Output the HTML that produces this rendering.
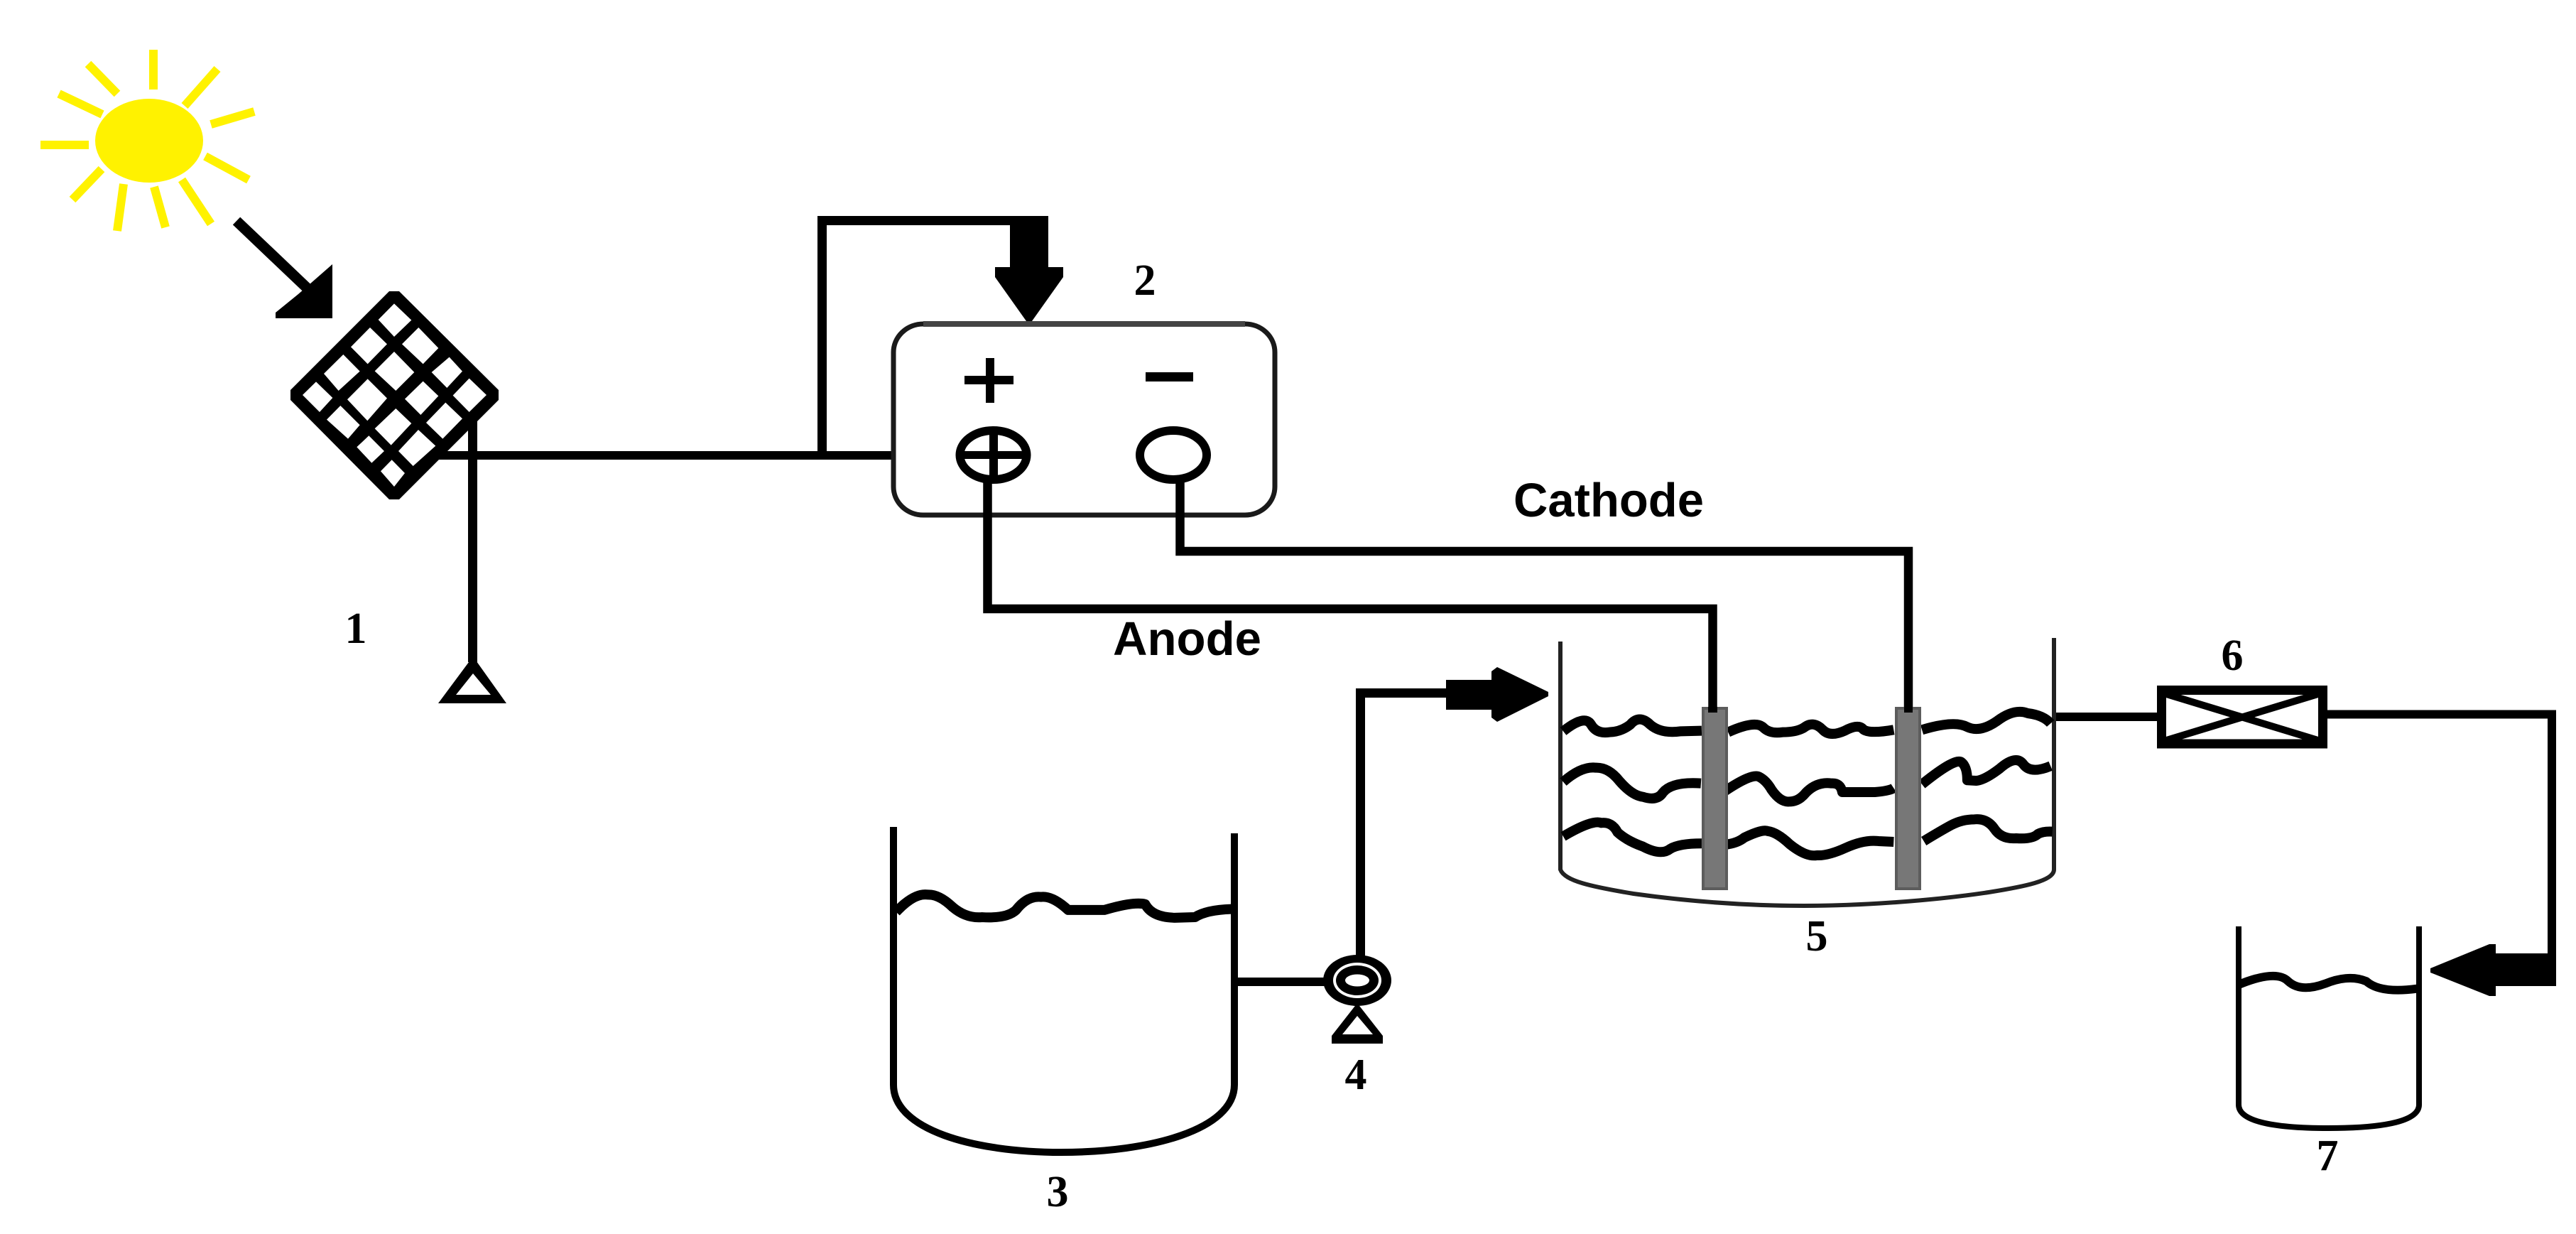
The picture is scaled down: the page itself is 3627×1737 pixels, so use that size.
<!DOCTYPE html>
<html>
<head>
<meta charset="utf-8">
<style>
html,body{margin:0;padding:0;background:#fff;}
svg{display:block;}
.n{font-family:"Liberation Serif",serif;font-weight:bold;font-size:62px;fill:#000;text-anchor:middle;}
.l{font-family:"Liberation Sans",sans-serif;font-weight:bold;font-size:67px;fill:#000;}
</style>
</head>
<body>
<svg xmlns="http://www.w3.org/2000/svg" width="3627" height="1737" viewBox="0 0 3627 1737">
<rect width="3627" height="1737" fill="#fff"/>

<!-- Sun -->
<ellipse cx="210" cy="198" rx="76" ry="59" fill="#fff200"/>
<g stroke="#fff200" stroke-width="12" fill="none">
<line x1="216" y1="70" x2="216" y2="126"/>
<line x1="260" y1="149" x2="306" y2="97"/>
<line x1="297" y1="175" x2="358" y2="157"/>
<line x1="289" y1="220" x2="350" y2="253"/>
<line x1="256" y1="253" x2="297" y2="315"/>
<line x1="217" y1="263" x2="233" y2="320"/>
<line x1="174" y1="259" x2="165" y2="325"/>
<line x1="143" y1="238" x2="102" y2="281"/>
<line x1="57" y1="204" x2="125" y2="204"/>
<line x1="144" y1="161" x2="83" y2="132"/>
<line x1="165" y1="132" x2="124" y2="90"/>
</g>

<!-- Sun arrow -->
<line x1="333" y1="311" x2="435" y2="408" stroke="#000" stroke-width="15"/>
<polygon points="468,372 468,448 388,448 388,440 420,414" fill="#000"/>

<!-- Solar panel -->
<polygon points="548,410 562,410 702,549 702,563 562,703 548,703 409,563 409,549" fill="#000"/>
<g transform="translate(350,350) scale(0.3333)" fill="#fff">
<polygon points="615,232 688,302 615,372 548,300"/>
<polygon points="513,333 585,403 503,487 432,415"/>
<polygon points="718,333 802,420 737,487 648,403"/>
<polygon points="400,447 470,518 380,600 318,528"/>
<polygon points="615,435 700,522 622,600 533,517"/>
<polygon points="848,458 903,518 838,588 773,522"/>
<polygon points="285,562 355,630 300,690 228,618"/>
<polygon points="503,550 585,632 502,727 417,637"/>
<polygon points="737,560 802,622 727,702 660,635"/>
<polygon points="932,548 1005,618 932,690 863,620"/>
<polygon points="388,663 470,745 420,803 330,722"/>
<polygon points="622,675 688,738 602,830 533,760"/>
<polygon points="832,650 903,718 820,803 750,735"/>
<polygon points="508,790 573,855 520,905 457,838"/>
<polygon points="717,765 790,833 695,918 633,855"/>
<polygon points="605,892 660,948 615,1005 558,940"/>
</g>

<!-- Panel wiring and stand -->
<rect x="659" y="587" width="13" height="345" fill="#000"/>
<rect x="613" y="635" width="645" height="12" fill="#000"/>
<polygon points="666,924 713,990 617,990" fill="#000"/>
<polygon points="666,948 691,978 642,978" fill="#fff"/>

<!-- Feedback wire and big down arrow -->
<path d="M1157.5 641 V310.5 H1430" stroke="#000" stroke-width="13" fill="none"/>
<polygon points="1422,304 1476,304 1476,376 1497,376 1497,390 1453,452 1445,452 1401,390 1401,376 1422,376" fill="#000"/>

<!-- Controller box -->
<rect x="1258" y="456" width="537" height="269" rx="42" ry="40" fill="none" stroke="#1a1a1a" stroke-width="7"/>
<rect x="1300" y="452" width="453" height="8" fill="#444"/>
<rect x="1388" y="504" width="12" height="63" fill="#000"/>
<rect x="1358" y="529" width="69" height="12" fill="#000"/>
<rect x="1613" y="524" width="67" height="13" fill="#000"/>
<ellipse cx="1398.5" cy="640.5" rx="47" ry="34.5" fill="#fff" stroke="#000" stroke-width="12"/>
<rect x="1393" y="612" width="12" height="60" fill="#000"/>
<rect x="1350" y="635" width="97" height="11" fill="#000"/>
<ellipse cx="1652" cy="640.5" rx="47" ry="34.5" fill="#fff" stroke="#000" stroke-width="12"/>

<!-- Electrode wires -->
<path d="M1390.5 672 V857 H2411.5 V1003" stroke="#000" stroke-width="12.5" fill="none"/>
<path d="M1661.5 672 V776 H2687 V1003" stroke="#000" stroke-width="12.5" fill="none"/>

<!-- Tank 5 -->
<path d="M2197 903 V1224 C2203 1240 2240 1248 2300 1258 C2400 1272 2480 1275 2540 1275 C2620 1275 2720 1268 2800 1256 C2850 1248 2892 1240 2892 1224 V898" fill="none" stroke="#222" stroke-width="6"/>
<g transform="translate(2150,950) scale(0.5102,0.3333)" fill="none" stroke="#000" stroke-linejoin="round">
<path vector-effect="non-scaling-stroke" stroke-width="14" d="M100 238 Q160 165 177 210 Q192 250 227 242 Q260 240 285 210 Q310 165 340 210 Q370 250 425 238 L482 236"/>
<path vector-effect="non-scaling-stroke" stroke-width="14" d="M555 242 Q630 190 652 222 Q670 250 705 242 Q745 242 765 222 Q790 192 815 230 Q835 265 878 235 Q915 205 928 230 Q945 250 1012 232"/>
<path vector-effect="non-scaling-stroke" stroke-width="14" d="M1090 232 Q1180 190 1215 220 Q1250 245 1297 195 Q1345 140 1382 162 Q1425 170 1445 205"/>
<path vector-effect="non-scaling-stroke" stroke-width="14" d="M100 452 Q150 385 190 392 Q225 390 255 448 Q290 510 320 515 Q360 535 375 497 Q400 450 480 458"/>
<path vector-effect="non-scaling-stroke" stroke-width="14" d="M545 492 Q620 415 640 430 Q660 445 675 485 Q700 540 725 535 Q750 535 770 497 Q800 450 840 458 Q865 455 870 495 L960 495 Q1000 490 1012 478"/>
<path vector-effect="non-scaling-stroke" stroke-width="14" d="M1090 462 Q1185 345 1200 370 Q1215 390 1215 445 L1240 447 Q1262 445 1305 395 Q1350 335 1370 378 Q1390 420 1445 385"/>
<path vector-effect="non-scaling-stroke" stroke-width="14" d="M100 682 Q180 610 205 625 Q235 620 250 665 Q275 700 320 725 Q370 765 395 735 Q420 712 482 712"/>
<path vector-effect="non-scaling-stroke" stroke-width="14" d="M545 717 Q580 712 600 687 Q650 650 665 660 Q690 665 725 715 Q770 770 800 762 Q830 765 880 730 Q930 695 970 702 L1012 705"/>
<path vector-effect="non-scaling-stroke" stroke-width="14" d="M1095 702 Q1140 660 1170 635 Q1200 610 1235 610 Q1270 605 1290 650 Q1310 695 1350 690 Q1395 695 1410 672 Q1425 660 1450 662"/>
</g>
<rect x="2398" y="997" width="33" height="254" fill="#777" stroke="#5c5c5c" stroke-width="4"/>
<rect x="2670" y="997" width="33" height="254" fill="#777" stroke="#5c5c5c" stroke-width="4"/>
<rect x="2405" y="995" width="13" height="8" fill="#000"/>
<rect x="2681" y="995" width="12" height="8" fill="#000"/>

<!-- Outlet and valve 6 -->
<rect x="2895" y="1003" width="142" height="12" fill="#000"/>
<rect x="3043.5" y="971.5" width="227" height="75.5" fill="#fff" stroke="#000" stroke-width="13"/>
<path d="M3047 976 L3267 1043 M3047 1043 L3267 976" stroke="#000" stroke-width="10" fill="none"/>
<path d="M3277 1005.5 H3593 V1388" stroke="#000" stroke-width="12" fill="none"/>

<!-- Arrow to tank 7 -->
<polygon points="3598,1342 3598,1388 3514,1388 3514,1402 3505,1402 3422,1369 3422,1363 3505,1329 3514,1329 3514,1342" fill="#000"/>

<!-- Tank 7 -->
<path d="M3152 1304 V1555 C3152 1577 3195 1588 3278 1588 C3362 1588 3406 1577 3406 1555 V1304" fill="none" stroke="#000" stroke-width="8"/>
<g transform="translate(2100,650) scale(0.9738,0.6932)" fill="none" stroke="#000" stroke-linejoin="round">
<path vector-effect="non-scaling-stroke" stroke-width="12" d="M1080 1062 Q1135 1030 1152 1055 Q1170 1078 1205 1060 Q1240 1040 1265 1055 Q1285 1080 1338 1070"/>
</g>

<!-- Tank 3 -->
<path d="M1258 1164 V1527 C1258 1590 1370 1622 1494 1622 C1620 1622 1738 1590 1738 1527 V1173" fill="none" stroke="#000" stroke-width="10"/>
<g transform="translate(1150,1100) scale(0.6378,0.4065)" fill="none" stroke="#000" stroke-linejoin="round">
<path vector-effect="non-scaling-stroke" stroke-width="14" d="M175 452 Q215 385 245 392 Q270 390 300 435 Q330 475 365 470 Q420 475 440 445 Q465 395 495 400 Q520 395 555 445 L635 445 Q700 415 725 425 Q740 470 790 472 L835 470 Q860 445 915 442"/>
</g>

<!-- Pump 4 -->
<rect x="1743" y="1376" width="125" height="12" fill="#000"/>
<path d="M1915.5 1345 V975.5 H2040" stroke="#000" stroke-width="13" fill="none"/>
<polygon points="2036,957 2100,957 2100,945 2108,939 2180,974 2180,980 2108,1016 2100,1010 2100,999 2036,999" fill="#000"/>
<polygon points="1911,1412 1947,1458 1947,1469 1875,1469 1875,1458" fill="#000"/>
<polygon points="1911,1430 1933,1456 1890,1456" fill="#fff"/>
<ellipse cx="1911" cy="1380" rx="48" ry="36" fill="#000"/>
<ellipse cx="1911" cy="1380" rx="34" ry="25" fill="#fff"/>
<ellipse cx="1911" cy="1380" rx="30" ry="21" fill="#000"/>
<ellipse cx="1911" cy="1380" rx="17" ry="8.5" fill="#fff"/>

<!-- Labels -->
<text class="n" x="501" y="905">1</text>
<text class="n" x="1612" y="415">2</text>
<text class="n" x="1489" y="1698">3</text>
<text class="n" x="1909" y="1533">4</text>
<text class="n" x="2558" y="1338">5</text>
<text class="n" x="3143" y="943">6</text>
<text class="n" x="3277" y="1647">7</text>
<text class="l" x="1567" y="922" textLength="209" lengthAdjust="spacingAndGlyphs">Anode</text>
<text class="l" x="2131" y="727" textLength="268" lengthAdjust="spacingAndGlyphs">Cathode</text>
</svg>
</body>
</html>
